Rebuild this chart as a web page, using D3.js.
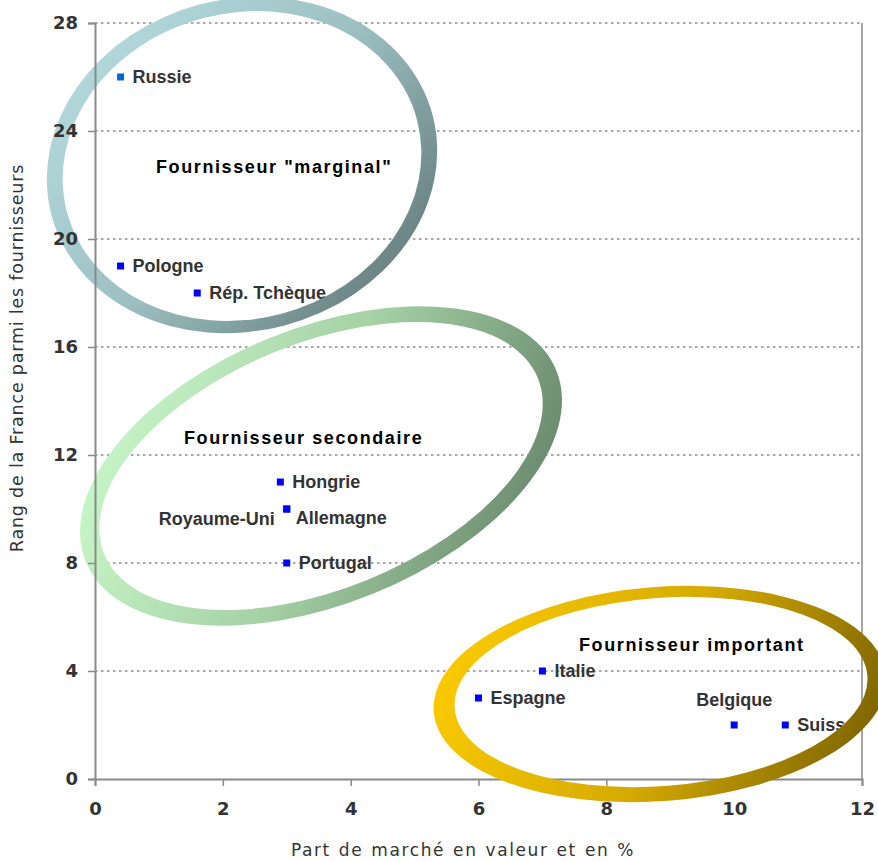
<!DOCTYPE html>
<html>
<head>
<meta charset="utf-8">
<script src="https://cdn.jsdelivr.net/npm/d3@7"></script>
<style>
  html, body { margin: 0; padding: 0; background: #fff; }
  svg { display: block; }
</style>
</head>
<body>
<svg id="chart" width="878" height="861"></svg>
<script>
// Pays fournisseurs : part de marché de la France (%) et rang de la France
const countries   = ["Russie", "Pologne", "Rép. Tchèque", "Hongrie", "Royaume-Uni", "Allemagne", "Portugal", "Italie", "Espagne", "Belgique", "Suisse"];
const marketShare = [0.4, 0.4, 1.6, 2.9, 3.0, 3.0, 3.0, 7.0, 6.0, 10.0, 10.8];
const franceRank  = [26, 19, 18, 11, 10, 10, 8, 4, 3, 2, 2];

const xTicks = [0, 2, 4, 6, 8, 10, 12];
const yTicks = [0, 4, 8, 12, 16, 20, 24, 28];

const groupTitles = ["Fournisseur \"marginal\"", "Fournisseur secondaire", "Fournisseur important"];

const W = 878, H = 861;
const plot = { left: 95, right: 862, top: 23, bottom: 779 };

const x = d3.scaleLinear().domain([0, 12]).range([plot.left, plot.right]);
const y = d3.scaleLinear().domain([0, 28]).range([plot.bottom, plot.top]);

const svg = d3.select("#chart");
const defs = svg.append("defs");

const AXIS = "#8a8a8a";
const TICK_FONT = "'DejaVu Sans', Verdana, sans-serif";
const LABEL_FONT = "'Liberation Sans', Arial, sans-serif";

// Horizontal dotted gridlines
svg.append("g")
  .selectAll("line")
  .data(yTicks.filter(d => d > 0))
  .join("line")
  .attr("x1", plot.left).attr("x2", plot.right)
  .attr("y1", d => y(d)).attr("y2", d => y(d))
  .attr("stroke", "#8c8c8c")
  .attr("stroke-width", 1.6)
  .attr("stroke-dasharray", "2.5,3.5");

// Right border of the plot area
svg.append("line")
  .attr("x1", plot.right).attr("x2", plot.right)
  .attr("y1", plot.top).attr("y2", plot.bottom)
  .attr("stroke", AXIS).attr("stroke-width", 1.5);

// Axes
const xAxis = svg.append("g")
  .attr("transform", `translate(0,${plot.bottom})`)
  .call(d3.axisBottom(x).tickValues(xTicks).tickSize(7).tickPadding(13).tickFormat(d3.format("d")));
const yAxis = svg.append("g")
  .attr("transform", `translate(${plot.left},0)`)
  .call(d3.axisLeft(y).tickValues(yTicks).tickSize(7).tickPadding(10).tickFormat(d3.format("d")));

[xAxis, yAxis].forEach(g => {
  g.select(".domain").attr("stroke", AXIS).attr("stroke-width", 2);
  g.selectAll(".tick line").attr("stroke", AXIS).attr("stroke-width", 1.5);
  g.selectAll(".tick text")
    .attr("fill", "#333")
    .style("font-family", TICK_FONT)
    .style("font-weight", "bold")
    .style("font-size", "18px");
});
xAxis.selectAll(".tick text").attr("dy", "0.9em");

// Axis titles
svg.append("text")
  .attr("x", 463).attr("y", 856)
  .attr("text-anchor", "middle")
  .attr("fill", "#333")
  .style("font-family", TICK_FONT)
  .style("font-size", "17px")
  .style("letter-spacing", "1.6px")
  .style("word-spacing", "1px")
  .text("Part de marché en valeur et en %");

svg.append("text")
  .attr("transform", "translate(23,358) rotate(-90)")
  .attr("text-anchor", "middle")
  .attr("fill", "#333")
  .style("font-family", TICK_FONT)
  .style("font-size", "17.5px")
  .style("letter-spacing", "0.8px")
  .text("Rang de la France parmi les fournisseurs");

// Points
const pts = countries.map((c, i) => ({ name: c, share: marketShare[i], rank: franceRank[i] }));

svg.append("g")
  .selectAll("rect")
  .data(pts)
  .join("rect")
  .attr("x", d => x(d.share) - 3.5)
  .attr("y", d => y(d.rank) - 3.5)
  .attr("width", 7).attr("height", 7)
  .attr("fill", d => d.name === "Russie" ? "#0a64d2" : "#0000ff");

// Label placement around each point (offsets in px)
const labelPlacement = {
  "Royaume-Uni": { dx: -12, dy: 10, anchor: "end" },
  "Allemagne":   { dx: 9,   dy: 9,  anchor: "start" },
  "Belgique":    { dx: 0,   dy: -25, anchor: "middle" }
};

svg.append("g")
  .selectAll("text")
  .data(pts)
  .join("text")
  .attr("x", d => x(d.share) + (labelPlacement[d.name] ? labelPlacement[d.name].dx : 12))
  .attr("y", d => y(d.rank) + (labelPlacement[d.name] ? labelPlacement[d.name].dy : 0))
  .attr("dy", "0.36em")
  .attr("text-anchor", d => labelPlacement[d.name] ? labelPlacement[d.name].anchor : "start")
  .attr("fill", "#333")
  .style("font-family", LABEL_FONT)
  .style("font-weight", "bold")
  .style("font-size", "18px")
  .text(d => d.name);

// Grouping rings: outer and inner ellipse filled even-odd with a diagonal gradient
const rings = [
  { outer: { cx: 242, cy: 165, a: 197, b: 166 }, inner: { cx: 242, cy: 166, a: 181, b: 153 }, angle: -14.6,
    grad: { x1: 60, y1: 20, x2: 420, y2: 320 }, stops: ["#b8dee2", "#9cc0c2", "#5c7171"] },
  { outer: { cx: 321, cy: 466, a: 254, b: 138 }, inner: { cx: 321, cy: 466, a: 234, b: 123 }, angle: -22.1,
    grad: { x1: 110, y1: 380, x2: 540, y2: 540 }, stops: ["#c8f7ca", "#a4d0a4", "#67866a"] },
  { outer: { cx: 660, cy: 694, a: 227, b: 107 }, inner: { cx: 661, cy: 692, a: 207, b: 94 }, angle: -4.5,
    grad: { x1: 470, y1: 620, x2: 860, y2: 780 }, stops: ["#f8c800", "#d6ab00", "#7c6300"] }
];

function ellipsePath(e, deg) {
  const t = deg * Math.PI / 180;
  const px = e.a * Math.cos(t), py = e.a * Math.sin(t);
  // Two half arcs using the SVG arc command with rotation
  return `M${e.cx + px},${e.cy + py}` +
    `A${e.a},${e.b} ${deg} 1 1 ${e.cx - px},${e.cy - py}` +
    `A${e.a},${e.b} ${deg} 1 1 ${e.cx + px},${e.cy + py}Z`;
}

rings.forEach((r, i) => {
  const g = defs.append("linearGradient")
    .attr("id", "ringGrad" + i)
    .attr("gradientUnits", "userSpaceOnUse")
    .attr("x1", r.grad.x1).attr("y1", r.grad.y1)
    .attr("x2", r.grad.x2).attr("y2", r.grad.y2);
  r.stops.forEach((c, k) => g.append("stop")
    .attr("offset", k / (r.stops.length - 1))
    .attr("stop-color", c));
  svg.append("path")
    .attr("d", ellipsePath(r.outer, r.angle) + ellipsePath(r.inner, r.angle))
    .attr("fill-rule", "evenodd")
    .attr("fill", `url(#ringGrad${i})`);
});

// Y tick labels stay readable above the rings
yAxis.raise();

// Group titles
const titlePos = [[156, 167], [184, 438], [579, 645]];
svg.append("g")
  .selectAll("text")
  .data(groupTitles)
  .join("text")
  .attr("x", (d, i) => titlePos[i][0])
  .attr("y", (d, i) => titlePos[i][1])
  .attr("dy", "0.36em")
  .attr("fill", "#000")
  .style("font-family", LABEL_FONT)
  .style("font-weight", "bold")
  .style("font-size", "18px")
  .style("letter-spacing", "1.6px")
  .text(d => d);
</script>
</body>
</html>
